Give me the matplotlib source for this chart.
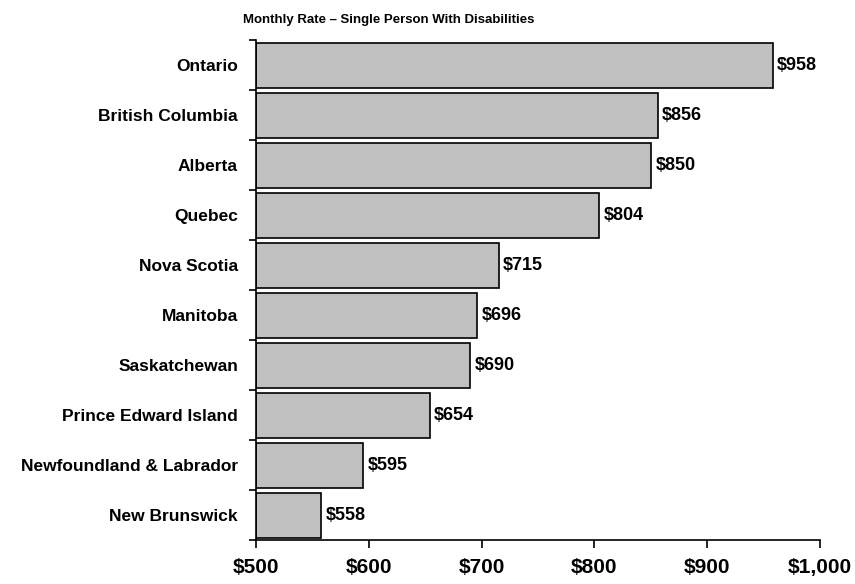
import matplotlib
matplotlib.use("Agg")
import matplotlib.pyplot as plt
from matplotlib.ticker import FuncFormatter

plt.rcParams['font.family'] = ['Liberation Sans', 'DejaVu Sans']
plt.rcParams['font.weight'] = 'bold'

# data, top to bottom as shown
provinces = ["Ontario", "British Columbia", "Alberta", "Quebec", "Nova Scotia",
             "Manitoba", "Saskatchewan", "Prince Edward Island",
             "Newfoundland & Labrador", "New Brunswick"]
rates = [958, 856, 850, 804, 715, 696, 690, 654, 595, 558]
x_ticks = [500, 600, 700, 800, 900, 1000]
title = "Monthly Rate \u2013 Single Person With Disabilities"

fig = plt.figure(figsize=(8.55, 5.84), dpi=100)
ax = fig.add_axes([256 / 855, 44 / 584, 564 / 855, 500 / 584])

pos = list(range(len(provinces)))
ax.barh(pos, [r - 500 for r in rates], left=500, height=0.9,
        color="#c0c0c0", edgecolor="black", linewidth=1.2)

for p, r in zip(pos, rates):
    ax.text(r + 4, p, f"${r:,}", va="center", ha="left",
            fontsize=13, fontweight="bold")

ax.set_xlim(500, 1000)
ax.set_ylim(len(provinces) - 0.5, -0.5)
ax.set_xticks(x_ticks)
ax.xaxis.set_major_formatter(FuncFormatter(lambda v, _: f"${int(v):,}"))
ax.tick_params(axis="x", labelsize=15, length=6, width=1.2, pad=7)

# category labels centred, ticks at the boundaries
ax.set_yticks(pos)
ax.set_yticklabels(provinces, fontsize=12.5, fontweight="bold")
ax.set_yticks([p - 0.5 for p in pos] + [len(pos) - 0.5], minor=True)
ax.tick_params(axis="y", which="major", length=0, pad=13)
ax.tick_params(axis="y", which="minor", length=5, width=1.2)
for lbl in ax.get_xticklabels():
    lbl.set_fontweight("bold")

for s in ("top", "right"):
    ax.spines[s].set_visible(False)
for s in ("left", "bottom"):
    ax.spines[s].set_linewidth(1.2)

fig.text(243 / 855, 1 - 20 / 584, title, ha="left", va="center",
         fontsize=9.5, fontweight="bold")

fig.savefig("out.png", dpi=100)
